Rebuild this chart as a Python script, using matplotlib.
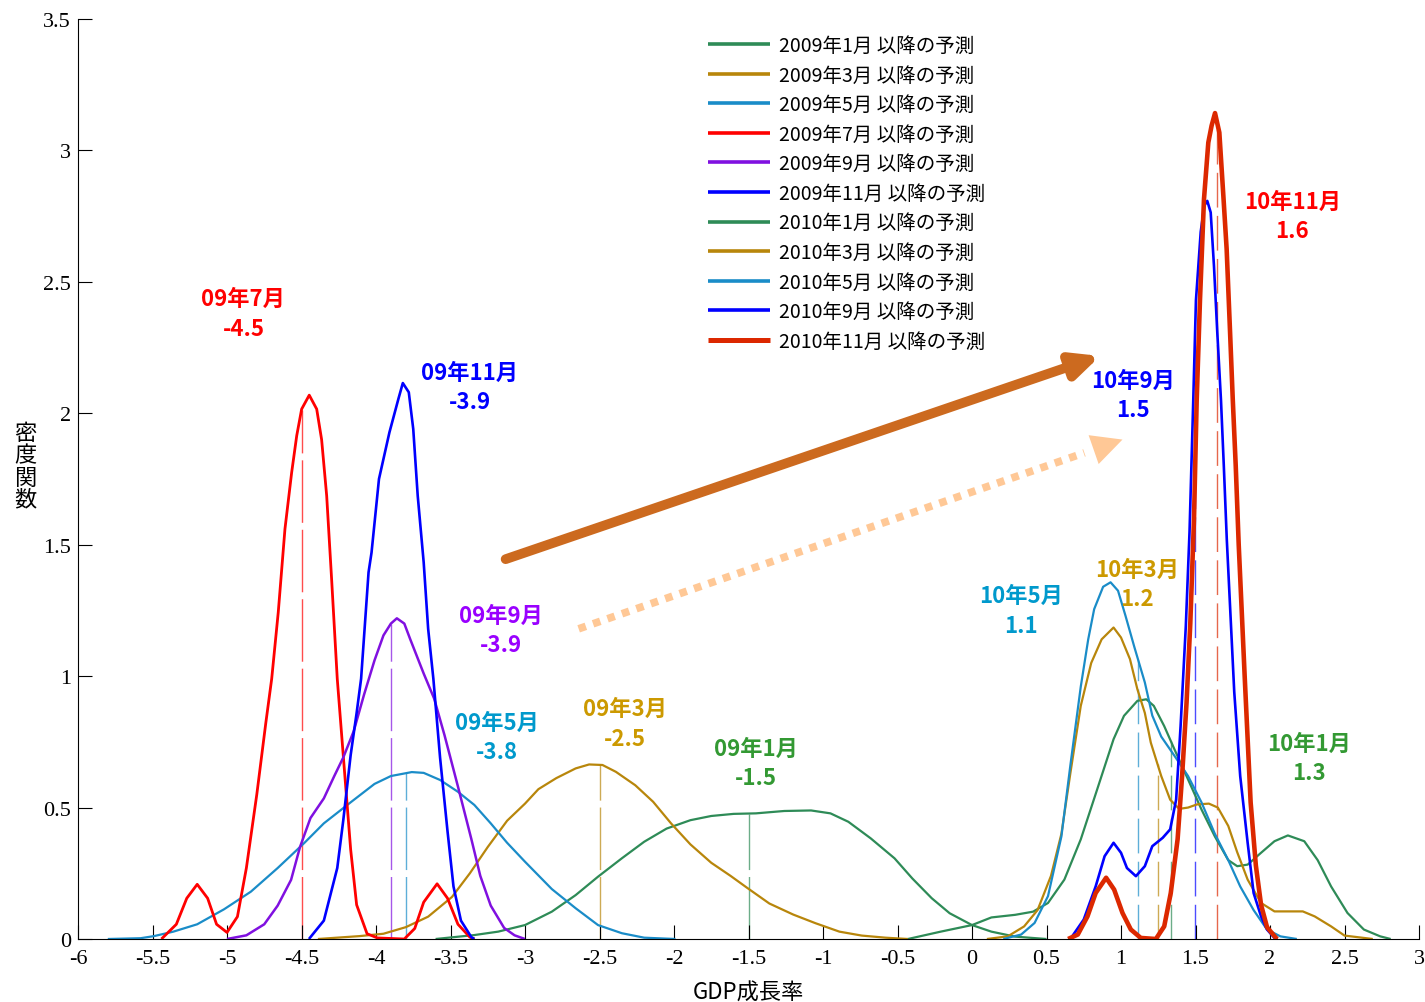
import matplotlib
matplotlib.use("Agg")
import matplotlib.pyplot as plt
import numpy as np

plt.rcParams["font.family"] = ["Noto Sans CJK JP", "DejaVu Sans"]

# ---------------------------------------------------------------------------
# Dados (taxa de crescimento do PIB x densidade)
# ---------------------------------------------------------------------------

x_0901 = [-3.60, -3.34, -3.18, -3.00, -2.82, -2.66, -2.51, -2.35, -2.20, -2.05, -1.89, -1.75, -1.60, -1.45,
          -1.26, -1.08, -0.95, -0.83, -0.68, -0.52, -0.40, -0.27, -0.15, 0.00, 0.13, 0.29, 0.50]
y_0901 = [0, 0.015, 0.028, 0.053, 0.104, 0.167, 0.237, 0.307, 0.37, 0.42, 0.452, 0.468, 0.476, 0.478,
          0.487, 0.489, 0.478, 0.446, 0.383, 0.307, 0.23, 0.155, 0.098, 0.053, 0.028, 0.009, 0]

x_0903 = [-4.39, -4.11, -3.95, -3.80, -3.65, -3.49, -3.37, -3.25, -3.12, -3.00, -2.91, -2.79, -2.66, -2.57,
          -2.48, -2.39, -2.26, -2.14, -2.02, -1.89, -1.75, -1.62, -1.51, -1.36, -1.20, -1.05, -0.89, -0.74,
          -0.58, -0.43]
y_0903 = [0, 0.011, 0.02, 0.045, 0.085, 0.16, 0.25, 0.35, 0.45, 0.515, 0.57, 0.612, 0.649, 0.664,
          0.662, 0.636, 0.585, 0.522, 0.44, 0.36, 0.29, 0.24, 0.195, 0.135, 0.093, 0.06, 0.028, 0.013,
          0.005, 0]

x_0905 = [-5.80, -5.58, -5.49, -5.36, -5.20, -5.02, -4.84, -4.66, -4.48, -4.35, -4.17, -4.01, -3.90, -3.76,
          -3.68, -3.57, -3.45, -3.34, -3.23, -3.12, -3.00, -2.82, -2.66, -2.51, -2.35, -2.20, -1.99]
y_0905 = [0, 0.003, 0.011, 0.028, 0.056, 0.113, 0.18, 0.27, 0.366, 0.44, 0.52, 0.59, 0.62, 0.635,
          0.632, 0.605, 0.56, 0.51, 0.44, 0.366, 0.294, 0.19, 0.117, 0.053, 0.022, 0.005, 0]

x_0907 = [-5.44, -5.34, -5.27, -5.20, -5.13, -5.07, -5.00, -4.93, -4.87, -4.80, -4.74, -4.70, -4.656, -4.611,
          -4.566, -4.532, -4.499, -4.448, -4.398, -4.365, -4.331, -4.298, -4.26, -4.22, -4.17, -4.13, -4.06,
          -3.99, -3.81, -3.74, -3.68, -3.59, -3.52, -3.45, -3.37, -3.34]
y_0907 = [0, 0.056, 0.155, 0.208, 0.155, 0.056, 0.025, 0.085, 0.27, 0.55, 0.82, 0.99, 1.243, 1.56,
          1.775, 1.915, 2.016, 2.069, 2.016, 1.90, 1.686, 1.37, 0.99, 0.70, 0.34, 0.13, 0.02,
          0.004, 0, 0.04, 0.14, 0.21, 0.155, 0.056, 0.007, 0]

x_0909 = [-5.00, -4.87, -4.75, -4.66, -4.57, -4.51, -4.44, -4.35, -4.28, -4.22, -4.15, -4.08, -4.01, -3.95,
          -3.90, -3.86, -3.81, -3.77, -3.68, -3.61, -3.54, -3.45, -3.36, -3.30, -3.23, -3.14, -3.07, -3.00]
y_0909 = [0, 0.014, 0.056, 0.127, 0.225, 0.35, 0.46, 0.535, 0.62, 0.69, 0.79, 0.93, 1.06, 1.155,
          1.20, 1.22, 1.20, 1.14, 1.01, 0.915, 0.775, 0.58, 0.38, 0.24, 0.127, 0.042, 0.014, 0]

x_0911 = [-4.45, -4.35, -4.26, -4.22, -4.17, -4.13, -4.10, -4.05, -4.03, -3.98, -3.95, -3.91, -3.85, -3.82,
          -3.78, -3.75, -3.72, -3.68, -3.65, -3.615, -3.57, -3.52, -3.48, -3.43, -3.36, -3.34]
y_0911 = [0, 0.07, 0.27, 0.45, 0.70, 0.86, 0.99, 1.395, 1.47, 1.75, 1.826, 1.927, 2.054, 2.115,
          2.08, 1.94, 1.686, 1.433, 1.18, 0.99, 0.69, 0.41, 0.20, 0.07, 0.007, 0]

x_1001 = [-0.43, -0.21, 0.00, 0.13, 0.29, 0.41, 0.51, 0.62, 0.73, 0.84, 0.95, 1.02, 1.11, 1.17, 1.22, 1.29,
          1.36, 1.45, 1.54, 1.63, 1.72, 1.78, 1.85, 1.94, 2.03, 2.12, 2.23, 2.32, 2.41, 2.52, 2.63, 2.74, 2.81]
y_1001 = [0, 0.028, 0.053, 0.082, 0.092, 0.104, 0.137, 0.226, 0.379, 0.569, 0.76, 0.849, 0.906, 0.912,
          0.887, 0.81, 0.72, 0.607, 0.493, 0.39, 0.30, 0.277, 0.283, 0.328, 0.372, 0.394, 0.372, 0.30,
          0.20, 0.099, 0.036, 0.01, 0]

x_1003 = [0.10, 0.24, 0.35, 0.44, 0.53, 0.60, 0.66, 0.73, 0.80, 0.87, 0.95, 1.00, 1.06, 1.11, 1.16, 1.20,
          1.27, 1.33, 1.39, 1.45, 1.51, 1.59, 1.65, 1.72, 1.78, 1.85, 1.94, 2.03, 2.12, 2.22, 2.30, 2.41,
          2.50, 2.69]
y_1003 = [0, 0.01, 0.048, 0.11, 0.24, 0.40, 0.63, 0.887, 1.05, 1.14, 1.185, 1.147, 1.065, 0.95, 0.86,
          0.747, 0.62, 0.53, 0.495, 0.50, 0.512, 0.515, 0.50, 0.43, 0.33, 0.226, 0.137, 0.105, 0.105,
          0.105, 0.086, 0.048, 0.013, 0]

x_1005 = [0.21, 0.33, 0.42, 0.51, 0.60, 0.66, 0.73, 0.78, 0.82, 0.88, 0.93, 0.98, 1.03, 1.09, 1.16, 1.21,
          1.27, 1.36, 1.45, 1.54, 1.63, 1.72, 1.80, 1.89, 1.98, 2.07, 2.18]
y_1005 = [0, 0.017, 0.061, 0.163, 0.39, 0.66, 0.96, 1.14, 1.255, 1.34, 1.357, 1.325, 1.23, 1.11, 0.976,
          0.85, 0.77, 0.696, 0.62, 0.52, 0.40, 0.30, 0.20, 0.11, 0.036, 0.01, 0]

x_1009 = [0.66, 0.75, 0.83, 0.89, 0.95, 1.00, 1.04, 1.10, 1.16, 1.21, 1.28, 1.33, 1.37, 1.40, 1.435, 1.46,
          1.485, 1.503, 1.535, 1.559, 1.579, 1.602, 1.624, 1.646, 1.671, 1.69, 1.71, 1.76, 1.80, 1.85, 1.89,
          1.94, 1.98, 2.03, 2.05]
y_1009 = [0, 0.074, 0.20, 0.315, 0.366, 0.328, 0.27, 0.239, 0.277, 0.353, 0.385, 0.417, 0.53, 0.81, 1.19,
          1.55, 2.05, 2.43, 2.69, 2.79, 2.808, 2.764, 2.56, 2.31, 2.05, 1.80, 1.52, 0.94, 0.62, 0.366,
          0.175, 0.086, 0.036, 0.004, 0]

x_1011 = [0.645, 0.71, 0.775, 0.83, 0.90, 0.954, 1.01, 1.066, 1.133, 1.234, 1.29, 1.334, 1.38, 1.41, 1.44,
          1.465, 1.49, 1.508, 1.53, 1.557, 1.586, 1.608, 1.631, 1.66, 1.687, 1.709, 1.732, 1.75, 1.77, 1.79,
          1.81, 1.83, 1.87, 1.905, 1.94, 1.98, 2.04, 2.05]
y_1011 = [0, 0.017, 0.086, 0.175, 0.233, 0.188, 0.099, 0.036, 0.004, 0, 0.048, 0.175, 0.38, 0.62, 0.90,
          1.2, 1.6, 2.05, 2.43, 2.815, 3.03, 3.094, 3.142, 3.068, 2.827, 2.625, 2.308, 2.054, 1.80, 1.50,
          1.25, 1.0, 0.52, 0.28, 0.13, 0.045, 0.004, 0]

legend_labels = [
    "2009年1月 以降の予測", "2009年3月 以降の予測", "2009年5月 以降の予測",
    "2009年7月 以降の予測", "2009年9月 以降の予測", "2009年11月 以降の予測",
    "2010年1月 以降の予測", "2010年3月 以降の予測", "2010年5月 以降の予測",
    "2010年9月 以降の予測", "2010年11月 以降の予測",
]

# média de cada previsão (linha tracejada); None = sem linha
means = [-1.5, -2.5, -3.8, -4.5, -3.9, None, 1.335, 1.245, 1.115, 1.495, 1.645]

# rótulos sobre os picos
ann_texts = ["09年7月\n-4.5", "09年11月\n-3.9", "09年9月\n-3.9", "09年5月\n-3.8", "09年3月\n-2.5",
             "09年1月\n-1.5", "10年9月\n1.5", "10年11月\n1.6", "10年3月\n1.2", "10年5月\n1.1",
             "10年1月\n1.3"]
ann_x = [-4.89, -3.37, -3.16, -3.19, -2.33, -1.45, 1.08, 2.15, 1.11, 0.33, 2.26]
ann_y = [2.38, 2.10, 1.175, 0.77, 0.82, 0.67, 2.07, 2.75, 1.35, 1.25, 0.69]

xticks = [-6, -5.5, -5, -4.5, -4, -3.5, -3, -2.5, -2, -1.5, -1, -0.5, 0, 0.5, 1, 1.5, 2, 2.5, 3]
yticks = [0, 0.5, 1, 1.5, 2, 2.5, 3, 3.5]

# setas (início, ponta) em coordenadas de dados
arrow_solid = ((-3.13, 1.445), (0.86, 2.218))
arrow_dotted = ((-2.64, 1.18), (1.01, 1.90))

# ---------------------------------------------------------------------------
# Estilos
# ---------------------------------------------------------------------------

series = [(x_0901, y_0901), (x_0903, y_0903), (x_0905, y_0905), (x_0907, y_0907),
          (x_0909, y_0909), (x_0911, y_0911), (x_1001, y_1001), (x_1003, y_1003),
          (x_1005, y_1005), (x_1009, y_1009), (x_1011, y_1011)]

cor_verde = "#2E8B57"
cor_marrom = "#B8860B"
cor_azulclaro = "#1A8CC8"
line_colors = [cor_verde, cor_marrom, cor_azulclaro, "#FF0000", "#8010E0", "#0000FF",
               cor_verde, cor_marrom, cor_azulclaro, "#0000FF", "#DC2800"]
line_widths = [1.6, 1.6, 1.6, 2.0, 1.8, 1.9, 1.6, 1.6, 1.6, 1.9, 3.3]

ann_colors = ["#FF0000", "#0000FF", "#9900FF", "#0099CC", "#CC9900", "#339933",
              "#0000FF", "#FF0000", "#CC9900", "#0099CC", "#339933"]

W, H = 1425, 1003
fig = plt.figure(figsize=(W / 100, H / 100), dpi=100)
ax = fig.add_axes([78 / W, 63 / H, (1419 - 78) / W, (940 - 20) / H])

# linhas tracejadas das médias
for (xs, ys), m, c in zip(series, means, line_colors):
    if m is None:
        continue
    h = np.interp(m, xs, ys)
    dash = (0, (45, 5)) if m < 0 else (0, (25, 6))
    ax.plot([m, m], [0, h], color=c, lw=1.0, alpha=0.7, ls=dash, zorder=1)

handles = []
for (xs, ys), c, lw, lab in zip(series, line_colors, line_widths, legend_labels):
    (ln,) = ax.plot(xs, ys, color=c, lw=lw, label=lab, zorder=2,
                    solid_joinstyle="round", solid_capstyle="butt")
    handles.append(ln)

for t, x, y, c in zip(ann_texts, ann_x, ann_y, ann_colors):
    ax.text(x, y, t, color=c, ha="center", va="center", fontsize=16,
            fontweight="bold", linespacing=1.35)

# seta cheia
cor_seta = "#CC6A1F"
ax.annotate("", xy=arrow_solid[1], xytext=arrow_solid[0],
            arrowprops=dict(arrowstyle="-|>,head_length=1.6,head_width=0.75",
                            lw=7, color=cor_seta, shrinkA=0, shrinkB=0))

# seta pontilhada
cor_pont = "#FFC896"
(x0, y0), (x1, y1) = arrow_dotted
frac = 0.93
ax.plot([x0, x0 + frac * (x1 - x0)], [y0, y0 + frac * (y1 - y0)], color=cor_pont,
        lw=5.5, ls=(0, (1, 1)), dash_capstyle="butt")
ax.annotate("", xy=(x1, y1), xytext=(x0 + 0.9 * (x1 - x0), y0 + 0.9 * (y1 - y0)),
            arrowprops=dict(arrowstyle="-|>,head_length=2.2,head_width=1.1",
                            lw=0, color=cor_pont, shrinkA=0, shrinkB=0))

leg = ax.legend(handles=handles, loc="upper left", bbox_to_anchor=(708 / W, 1 - 36 / H),
                bbox_transform=fig.transFigure, frameon=False, fontsize=14,
                handlelength=3.2, handletextpad=0.45, labelspacing=0.44,
                borderpad=0, borderaxespad=0)
for ln in leg.get_lines():
    ln.set_linewidth(2.6)
leg.get_lines()[-1].set_linewidth(3.6)

ax.set_xlim(-6, 3)
ax.set_ylim(0, 3.5)
ax.set_xticks(xticks)
ax.set_xticklabels([f"{v:g}" for v in xticks])
ax.set_yticks(yticks)
ax.set_yticklabels([f"{v:g}" for v in yticks])
ax.tick_params(direction="in", length=10, width=0.8, labelsize=16)
ax.tick_params(axis="x", pad=7)
ax.tick_params(axis="y", pad=5)
for lab in ax.get_xticklabels() + ax.get_yticklabels():
    lab.set_fontfamily("Liberation Serif")

for s in ["top", "right"]:
    ax.spines[s].set_visible(False)
for s in ["left", "bottom"]:
    ax.spines[s].set_linewidth(0.8)

ax.set_xlabel("GDP成長率", fontsize=16, labelpad=9)
fig.text(25 / W, 1 - 467 / H, "密\n度\n関\n数", fontsize=16, ha="center", va="center",
         linespacing=0.95)

fig.savefig("out.png", dpi=100)
